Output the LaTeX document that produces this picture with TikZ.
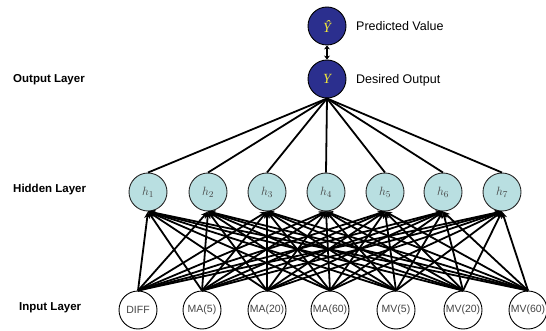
\documentclass[tikz,border=0pt]{standalone}
\usepackage{fontspec}
\setmainfont{Liberation Sans}
\newfontfamily\serifit{Liberation Serif}
\usetikzlibrary{arrows.meta}
\definecolor{navy}{HTML}{2B2F8E}
\definecolor{ylw}{HTML}{F2E83A}
\definecolor{hid}{HTML}{B9DFE1}
\definecolor{txtg}{HTML}{454545}
\begin{document}
\begin{tikzpicture}[x=1pt,y=-1pt,
  innode/.style={circle,draw=black,line width=0.9pt,fill=white,minimum size=38pt,inner sep=0pt,text=txtg,font=\fontsize{10.5}{12}\selectfont},
  hidnode/.style={circle,draw=black!85,line width=0.9pt,fill=hid,minimum size=38pt,inner sep=0pt,text=txtg,font=\fontsize{13}{15}\selectfont},
  outnode/.style={circle,draw=black,line width=0.9pt,fill=navy,minimum size=38pt,inner sep=0pt,text=ylw,font=\serifit\itshape\fontsize{14}{16}\selectfont},
  layerlbl/.style={anchor=west,font=\bfseries\fontsize{11.5}{13}\selectfont,inner sep=0pt},
  sidelbl/.style={anchor=west,font=\fontsize{12.5}{14}\selectfont,inner sep=0pt},
  conn/.style={line width=1.8pt,-{Stealth[length=7pt,width=6pt]}},
  plain/.style={line width=1.8pt}
]
\useasboundingbox (0,0) rectangle (546,331);
% input layer
\node[innode] (i1) at (138,310) {DIFF};
\node[innode] (i2) at (202,310) {MA(5)};
\node[innode] (i3) at (267,310) {MA(20)};
\node[innode] (i4) at (330,310) {MA(60)};
\node[innode] (i5) at (396,310) {MV(5)};
\node[innode] (i6) at (463,310) {MV(20)};
\node[innode] (i7) at (528,310) {MV(60)};
% hidden layer
\node[hidnode] (h1) at (148,192) {$h_1$};
\node[hidnode] (h2) at (208,192) {$h_2$};
\node[hidnode] (h3) at (267,192) {$h_3$};
\node[hidnode] (h4) at (326,192) {$h_4$};
\node[hidnode] (h5) at (385,192) {$h_5$};
\node[hidnode] (h6) at (443,192) {$h_6$};
\node[hidnode] (h7) at (502,192) {$h_7$};
% output
\node[outnode] (y) at (327,79) {Y};
\node[outnode] (yh) at (327,26) {Ŷ};
% connections input -> hidden
\foreach \i in {1,...,7}{
  \foreach \j in {1,...,7}{
    \draw[conn] (i\i.north) -- (h\j.south);
  }
}
\foreach \j in {1,...,7}{
  \draw[plain] (h\j.north) -- (y.south);
}
\draw[line width=1.8pt,{Stealth[length=4pt,width=6pt]}-{Stealth[length=4pt,width=6pt]}] (yh.south) -- (y.north);
% labels
\node[sidelbl] (pv) at (356,26) {Predicted Value};
\node[sidelbl] (do) at (356,80) {Desired Output};
\node[layerlbl] (ol) at (13,80) {Output Layer};
\node[layerlbl] (hl) at (13,190) {Hidden Layer};
\node[layerlbl] (il) at (19,308) {Input Layer};
\end{tikzpicture}
\end{document}
